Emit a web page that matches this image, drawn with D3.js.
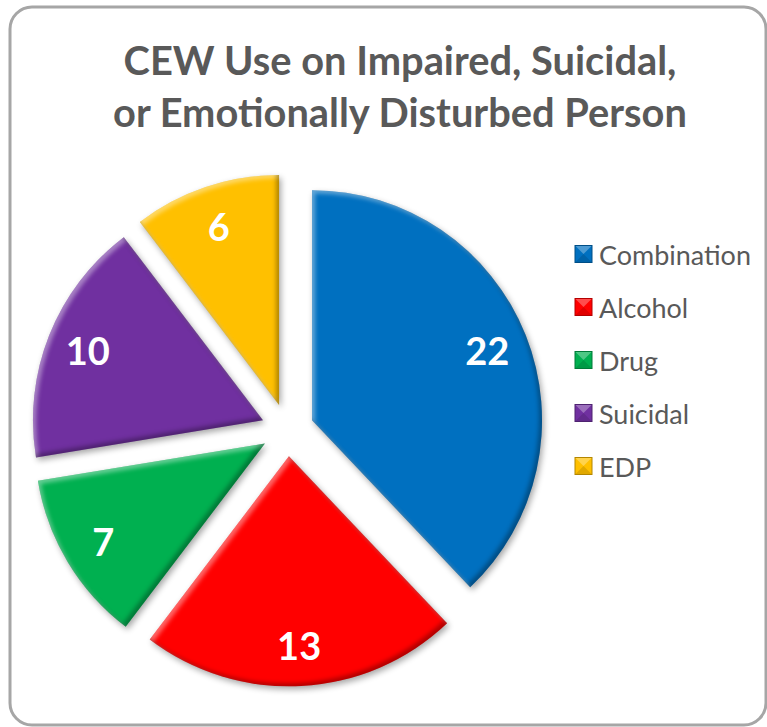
<!DOCTYPE html>
<html>
<head>
<meta charset="utf-8">
<script src="https://cdn.jsdelivr.net/npm/d3@7"></script>
<style>
  html, body { margin: 0; padding: 0; background: #fff; }
  svg { display: block; }
</style>
</head>
<body>
<svg id="chart" width="767" height="727"></svg>
<script>
// ---- data ----
const categories = ["Combination", "Alcohol", "Drug", "Suicidal", "EDP"];
const values = [22, 13, 7, 10, 6];
const colors = ["#0070C0", "#FF0000", "#00B050", "#7030A0", "#FFC000"];
const titleLines = ["CEW Use on Impaired, Suicidal,", "or Emotionally Disturbed Person"];

// ---- layout ----
const W = 767, H = 727;
const cx = 287.5, cy = 430, R = 230, explode = 26.4;
const svg = d3.select("#chart");

const defs = svg.append("defs");
const f = defs.append("filter").attr("id", "bevel")
  .attr("x", "-20%").attr("y", "-20%").attr("width", "140%").attr("height", "140%")
  .attr("color-interpolation-filters", "sRGB");
f.append("feGaussianBlur").attr("in", "SourceAlpha").attr("stdDeviation", 2.2).attr("result", "b");
f.append("feOffset").attr("in", "b").attr("dx", 3).attr("dy", 3).attr("result", "bo1");
f.append("feComposite").attr("in", "SourceAlpha").attr("in2", "bo1").attr("operator", "out").attr("result", "hl");
f.append("feFlood").attr("flood-color", "#ffffff").attr("flood-opacity", 0.4).attr("result", "wf");
f.append("feComposite").attr("in", "wf").attr("in2", "hl").attr("operator", "in").attr("result", "hlc");
f.append("feOffset").attr("in", "b").attr("dx", -3).attr("dy", -3).attr("result", "bo2");
f.append("feComposite").attr("in", "SourceAlpha").attr("in2", "bo2").attr("operator", "out").attr("result", "sh");
f.append("feFlood").attr("flood-color", "#000000").attr("flood-opacity", 0.3).attr("result", "bf");
f.append("feComposite").attr("in", "bf").attr("in2", "sh").attr("operator", "in").attr("result", "shc");
f.append("feGaussianBlur").attr("in", "SourceAlpha").attr("stdDeviation", 3).attr("result", "db");
f.append("feOffset").attr("in", "db").attr("dx", 2).attr("dy", 3).attr("result", "dbo");
const ct = f.append("feComponentTransfer").attr("in", "dbo").attr("result", "ds");
ct.append("feFuncA").attr("type", "linear").attr("slope", 0.35);
const fm = f.append("feMerge");
["ds", "SourceGraphic", "hlc", "shc"].forEach(n => fm.append("feMergeNode").attr("in", n));

// border
svg.append("rect")
  .attr("x", 10).attr("y", 7).attr("width", 756).attr("height", 718)
  .attr("rx", 22).attr("ry", 22)
  .attr("fill", "#ffffff").attr("stroke", "#A6A6A6").attr("stroke-width", 3);

// title
const title = svg.append("g");
const tl = title.selectAll("text").data(titleLines).enter().append("text")
  .attr("x", 400).attr("y", (d, i) => 75 + i * 52)
  .attr("text-anchor", "middle")
  .attr("font-family", "Lato, 'Open Sans', sans-serif")
  .attr("font-weight", "bold")
  .attr("font-size", 34)
  .attr("fill", "#595959")
  .text(d => d);
// fit size to reference width of second line
{
  const node = tl.nodes()[1];
  const w = node.getComputedTextLength();
  const fs = 34 * 574 / w;
  tl.attr("font-size", fs);
}

// pie
const pie = d3.pie().sort(null).value(d => d).startAngle(0).endAngle(2 * Math.PI);
const arcs = pie(values);
const arc = d3.arc().innerRadius(0).outerRadius(R);
const labelArc = d3.arc().innerRadius(R * 0.82).outerRadius(R * 0.82);

const g = svg.append("g").attr("transform", `translate(${cx},${cy})`);
const slices = g.selectAll("g.slice").data(arcs).enter().append("g")
  .attr("class", "slice")
  .attr("transform", d => {
    const a = (d.startAngle + d.endAngle) / 2;
    return `translate(${explode * Math.sin(a)},${-explode * Math.cos(a)})`;
  });
slices.append("path")
  .attr("d", arc)
  .attr("fill", (d, i) => colors[i])
  .attr("filter", "url(#bevel)");
slices.append("text")
  .attr("transform", d => `translate(${labelArc.centroid(d)})`)
  .attr("text-anchor", "middle")
  .attr("dominant-baseline", "central")
  .attr("font-family", "Lato, 'Open Sans', sans-serif")
  .attr("font-weight", "bold")
  .attr("font-size", 38)
  .attr("fill", "#ffffff")
  .text(d => d.data);

// legend
const legend = svg.append("g");
const rows = legend.selectAll("g").data(categories).enter().append("g")
  .attr("transform", (d, i) => `translate(575,${254 + i * 53})`);
rows.append("rect")
  .attr("x", 0).attr("y", -8.5).attr("width", 17).attr("height", 17)
  .attr("fill", (d, i) => colors[i])
  .attr("stroke", (d, i) => d3.color(colors[i]).darker(1))
  .attr("stroke-width", 1);
rows.append("path")
  .attr("d", "M0.5,-8 L16.5,-8 L8.5,0 Z")
  .attr("fill", "#ffffff").attr("opacity", 0.3);
rows.append("path")
  .attr("d", "M0.5,8 L16.5,8 L8.5,0 Z")
  .attr("fill", "#000000").attr("opacity", 0.12);
const lt = rows.append("text")
  .attr("x", 24).attr("y", 0)
  .attr("dominant-baseline", "central")
  .attr("font-family", "Lato, 'Open Sans', sans-serif")
  .attr("font-size", 24)
  .attr("fill", "#595959")
  .text(d => d);
{
  const w = lt.nodes()[0].getComputedTextLength();
  lt.attr("font-size", 24 * 152 / w);
}
</script>
</body>
</html>
